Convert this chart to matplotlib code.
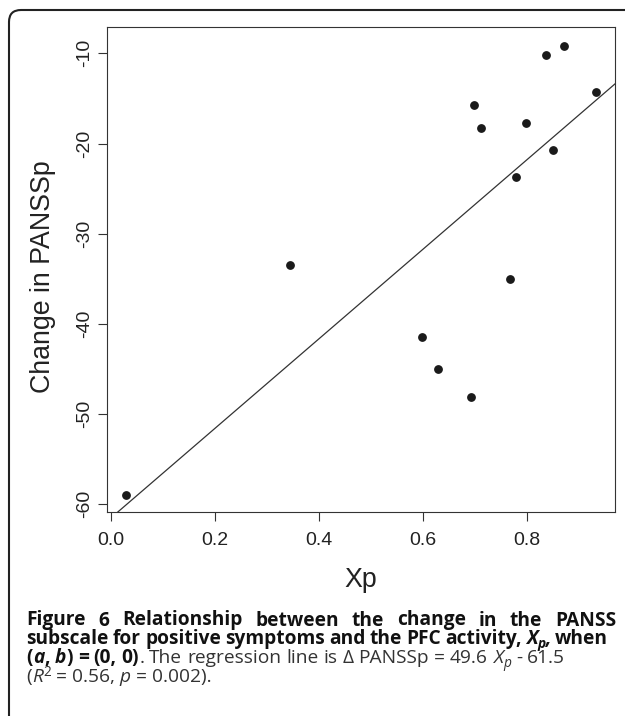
import matplotlib
matplotlib.use('Agg')
import matplotlib.pyplot as plt
from matplotlib.patches import FancyBboxPatch
from matplotlib.transforms import IdentityTransform

# data
xp = [0.028, 0.345, 0.599, 0.629, 0.693, 0.698, 0.712, 0.799, 0.837, 0.871, 0.934, 0.851, 0.780, 0.768]
change = [-59.0, -33.5, -41.4, -45.0, -48.1, -15.7, -18.3, -17.7, -10.2, -9.2, -14.3, -20.7, -23.7, -35.0]
slope = 49.6
intercept = -61.5

x_ticks = [0.0, 0.2, 0.4, 0.6, 0.8]
x_tick_labels = ['0.0', '0.2', '0.4', '0.6', '0.8']
y_ticks = [-60, -50, -40, -30, -20, -10]
y_tick_labels = ['-60', '-50', '-40', '-30', '-20', '-10']

# caption: lines -> words -> (text, style, shift)
caption = [
  [[('Figure', 'b', 0)], [('6', 'b', 0)], [('Relationship', 'b', 0)], [('between', 'b', 0)],
   [('the', 'b', 0)], [('change', 'b', 0)], [('in', 'b', 0)], [('the', 'b', 0)], [('PANSS', 'b', 0)]],
  [[('subscale', 'b', 0)], [('for', 'b', 0)], [('positive', 'b', 0)], [('symptoms', 'b', 0)],
   [('and', 'b', 0)], [('the', 'b', 0)], [('PFC', 'b', 0)], [('activity,', 'b', 0)],
   [('X', 'bi', 0), ('p', 'bi', -1), (',', 'bi', 0)], [('when', 'b', 0)]],
  [[('(', 'b', 0), ('a', 'bi', 0), (',', 'b', 0)], [('b', 'bi', 0), (')', 'b', 0)], [('=', 'b', 0)],
   [('(0,', 'b', 0)], [('0)', 'b', 0), ('.', 'r', 0)], [('The', 'r', 0)], [('regression', 'r', 0)],
   [('line', 'r', 0)], [('is', 'r', 0)], [('\u0394', 'r', 0)], [('PANSSp', 'r', 0)], [('=', 'r', 0)],
   [('49.6', 'r', 0)], [('X', 'i', 0), ('p', 'i', -1)], [('-', 'r', 0)], [('61.5', 'r', 0)]],
  [[('(', 'r', 0), ('R', 'i', 0), ('2', 'r', 1)], [('=', 'r', 0)], [('0.56,', 'r', 0)],
   [('p', 'i', 0)], [('=', 'r', 0)], [('0.002).', 'r', 0)]],
]
caption_base = [625.5, 644, 663, 682]
caption_right = [616, 608, None, None]

STYLES = {
  'b': dict(weight='bold', style='normal', color='#111111'),
  'bi': dict(weight='bold', style='italic', color='#111111'),
  'r': dict(weight='normal', style='normal', color='#333333'),
  'i': dict(weight='normal', style='italic', color='#333333'),
}

W, H = 625, 716
CAP_FONT = 'Open Sans'
CAP_SIZE = 13.8


def main():
  plt.rcParams['font.family'] = ['Liberation Sans', 'DejaVu Sans']
  fig = plt.figure(figsize=(W / 100, H / 100), dpi=100)
  pix = IdentityTransform()

  # rounded frame round the figure
  frame = FancyBboxPatch((9, -20), 720, 706 + 20, boxstyle='round,pad=0,rounding_size=12',
                         transform=pix, fill=False, lw=1.5, ec='#222222')
  fig.add_artist(frame)

  ax = fig.add_axes([107 / W, 1 - 512 / H, (615 - 107) / W, (512 - 27) / H])
  ax.set_xlim(-0.0077, 0.970)
  ax.set_ylim(-60.85, -7.08)

  ax.axline((0, intercept), slope=slope, color='#333333', lw=0.9)
  ax.plot(xp, change, 'o', ms=5.3, color='#1a1a1a', mec='#1a1a1a')

  ax.set_xticks(x_ticks, x_tick_labels)
  ax.set_yticks(y_ticks, y_tick_labels)
  ax.tick_params(direction='out', length=6.3, width=0.8, color='#333333',
                 labelsize=14, labelcolor='#222222')
  ax.tick_params(axis='x', pad=8)
  ax.tick_params(axis='y', labelrotation=90, pad=4)
  for t in ax.get_yticklabels():
    t.set_va('center')
  for s in ax.spines.values():
    s.set_linewidth(0.8)
    s.set_color('#333333')

  fig.text(361, H - 587, 'Xp', transform=pix, ha='center', va='baseline',
           fontsize=19.3, color='#222222')
  fig.text(50, H - 276.5, 'Change in PANSSp', transform=pix, ha='center', va='baseline',
           rotation=90, rotation_mode='anchor', fontsize=19.3, color='#222222')

  # caption, laid out word by word so lines 1 and 2 can be justified
  renderer = fig.canvas.get_renderer()
  x_left = 26.5
  space = 0.26 * CAP_SIZE * 100 / 72
  for words, base, right in zip(caption, caption_base, caption_right):
    measured = []
    for word in words:
      segs = []
      for text, style, shift in word:
        size = CAP_SIZE * (0.72 if shift else 1.0)
        t = fig.text(0, 0, text, transform=pix, fontsize=size, family=CAP_FONT,
                     va='baseline', **STYLES[style])
        w = t.get_window_extent(renderer).width
        t.remove()
        segs.append((text, style, shift, size, w))
      measured.append(segs)
    widths = [sum(s[4] for s in segs) for segs in measured]
    gap = space
    if right is not None and len(words) > 1:
      gap = (right - x_left - sum(widths)) / (len(words) - 1)
    x = x_left
    for segs, w in zip(measured, widths):
      cx = x
      for text, style, shift, size, sw in segs:
        dy = -4 if shift < 0 else (6 if shift > 0 else 0)
        fig.text(cx, H - base + dy, text, transform=pix, fontsize=size, family=CAP_FONT,
                 va='baseline', **STYLES[style])
        cx += sw
      x += w + gap

  fig.savefig('out.png', dpi=100)


if __name__ == '__main__':
  main()
